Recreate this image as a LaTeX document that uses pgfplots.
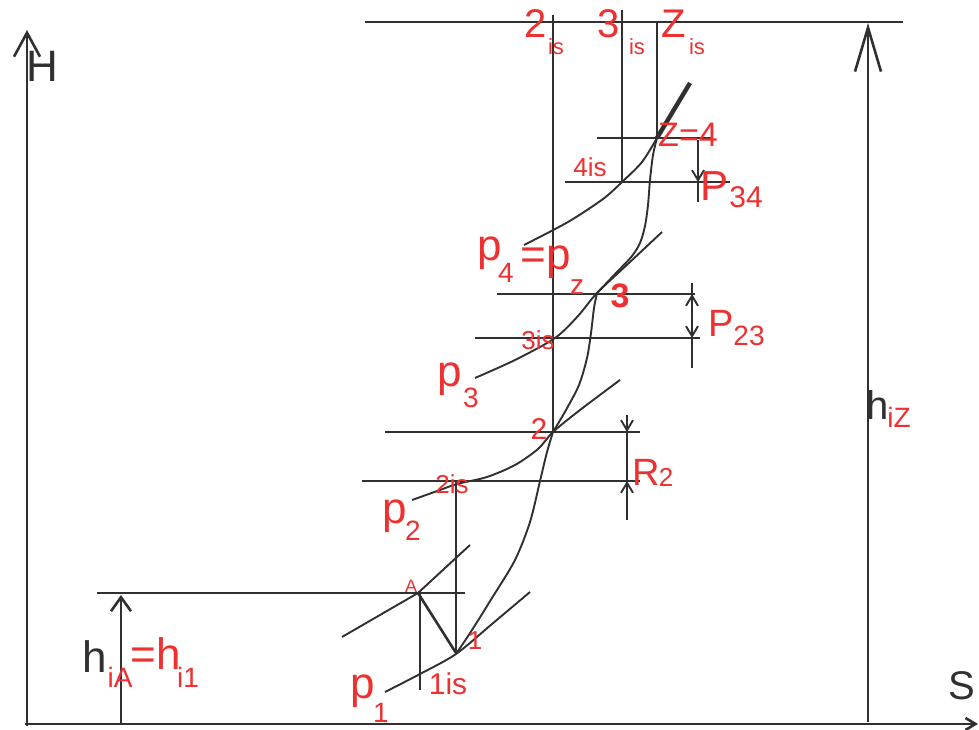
\documentclass[border=0pt]{standalone}
\usepackage{fontspec}
\setmainfont{Liberation Sans}
\usepackage{pgfplots}
\pgfplotsset{compat=1.18}
\usetikzlibrary{arrows.meta}
\definecolor{lbl}{RGB}{238,48,48}
\definecolor{ink}{RGB}{48,48,48}
\newcommand\fs[1]{\fontsize{#1bp}{#1bp}\selectfont}
\tikzset{
  lab/.style={text=lbl, inner sep=0pt, anchor=base, font=\fs{#1}},
  blk/.style={text=ink, inner sep=0pt, anchor=base, font=\fs{#1}},
  thick line/.style={ink, line width=1.3bp},
  thin line/.style={ink, line width=0.95bp},
  dimtip/.style={-{Straight Barb[length=5bp,width=6bp]}},
}
\begin{document}
\begin{tikzpicture}
\begin{axis}[name=ax, width=489.5bp, height=365bp, scale only axis,
  xmin=0, xmax=979, ymin=0, ymax=730, y dir=reverse,
  axis lines=none, clip=false]

% coordinate axes H and S
\addplot[thick line, -{Straight Barb[length=12bp,width=13bp]}] coordinates {(27,726) (27,30)};
\addplot[thick line, -{Straight Barb[length=5bp,width=6bp]}] coordinates {(25,724) (978,724)};

% top reference line and total enthalpy drop h_iZ
\addplot[thick line] coordinates {(365,22) (903,22)};
\addplot[thick line, -{Straight Barb[length=22bp,width=13bp]}] coordinates {(868,722) (868,23)};

% level of point A and h_iA arrow
\addplot[thick line] coordinates {(97,593) (465,593)};
\addplot[thick line, -{Straight Barb[length=7bp,width=10bp]}] coordinates {(121,724) (121,595)};

% isobars
\addplot[thin line] coordinates {(342,637) (418,593) (470,545)};
\addplot[thin line, smooth] coordinates {(385,692) (420,674) (456,654) (492,624) (530,592)};
\addplot[thin line, smooth] coordinates {(412,500) (440,490) (457,484) (487,477) (515,465) (538,449) (553,432) (580,410) (620,380)};
\addplot[thin line, smooth] coordinates {(475,378) (515,360) (555,338) (578,316) (597,293) (630,262) (662,232)};
\addplot[thin line, smooth] coordinates {(524,245) (568,222) (603,199) (622,182) (642,162) (657,138)};
\addplot[ink, line width=2.2bp] coordinates {(657,138) (690,83)};

% expansion line through the stages
\addplot[thin line, smooth] coordinates {(456,654) (472,630) (492,598) (515,560) (530,522) (540,481) (547,452) (553,432)};
\addplot[thin line, smooth] coordinates {(553,432) (566,410) (579,385) (587,358) (591,333) (594,308) (597,293)};
\addplot[thin line, smooth] coordinates {(597,293) (617,272) (632,256) (640,243) (645,226) (648,205) (650,180) (653,155) (657,138)};

% stage 1: A -> 1
\addplot[thick line] coordinates {(418,593) (456,653)};
\addplot[thick line] coordinates {(420,593) (420,690)};
\addplot[thick line] coordinates {(456,482) (456,653)};

% stage 2
\addplot[thick line] coordinates {(385,432) (640,432)};
\addplot[thick line] coordinates {(362,481) (640,481)};
\addplot[thick line] coordinates {(553,15) (553,432)};
\addplot[thin line] coordinates {(627,415) (627,520)};
\addplot[thin line, dimtip] coordinates {(627,418) (627,432)};
\addplot[thin line, dimtip] coordinates {(627,500) (627,481)};

% stage 3
\addplot[thick line] coordinates {(497,294) (695,294)};
\addplot[thick line] coordinates {(475,338) (700,338)};
\addplot[thin line] coordinates {(692,283) (692,368)};
\addplot[thin line, dimtip] coordinates {(692,312) (692,294)};
\addplot[thin line, dimtip] coordinates {(692,322) (692,338)};

% stage 4 (z)
\addplot[thick line] coordinates {(597,138) (712,138)};
\addplot[thick line] coordinates {(565,182) (730,182)};
\addplot[thick line] coordinates {(622,10) (622,182)};
\addplot[thick line] coordinates {(657,22) (657,138)};
\addplot[thin line] coordinates {(698,140) (698,202)};
\addplot[thin line, dimtip] coordinates {(698,165) (698,182)};

% labels
\node[blk=22] at (42,82) {H};
\node[blk=20] at (962,700) {S};

\node[lab=20] at (536,37) {2};
\node[lab=11] at (556,54) {is};
\node[lab=20] at (609,37) {3};
\node[lab=11] at (637,54) {is};
\node[lab=20] at (674,37) {Z};
\node[lab=11] at (697,54) {is};

\node[lab=17] at (688,147) {Z=4};
\node[lab=13] at (590,177) {4is};
\node[lab=21] at (714,201) {P};
\node[lab=15] at (746,208) {34};

\node[lab=22] at (490,261) {p};
\node[lab=14] at (506,283) {4};
\node[lab=22] at (546,270) {=p};
\node[lab=14] at (577,295) {z};

\node[lab=17, font=\fs{17}\bfseries] at (620,308) {3};
\node[lab=13] at (538,350) {3is};
\node[lab=19] at (721,337) {P};
\node[lab=14] at (749,346) {23};

\node[lab=22] at (450,387) {p};
\node[lab=14] at (471,408) {3};

\node[lab=15] at (539,440) {2};
\node[lab=13] at (452,494) {2is};
\node[lab=19] at (646,486) {R};
\node[lab=13] at (666,487) {2};

\node[lab=22] at (395,524) {p};
\node[lab=14] at (413,541) {2};

\node[lab=9] at (411,593) {A};
\node[lab=13] at (475,650) {1};
\node[lab=15] at (448,695) {1is};
\node[lab=22] at (363,699) {p};
\node[lab=14] at (381,723) {1};

\node[blk=22] at (95,673) {h};
\node[lab=14] at (120,688) {iA};
\node[lab=22] at (156,670) {=h};
\node[lab=14] at (188,688) {i1};

\node[blk=20] at (878,420) {h};
\node[lab=14] at (899,428) {iZ};

\end{axis}
\pgfresetboundingbox
\path (ax.south west) rectangle (ax.north east);
\end{tikzpicture}
\end{document}
